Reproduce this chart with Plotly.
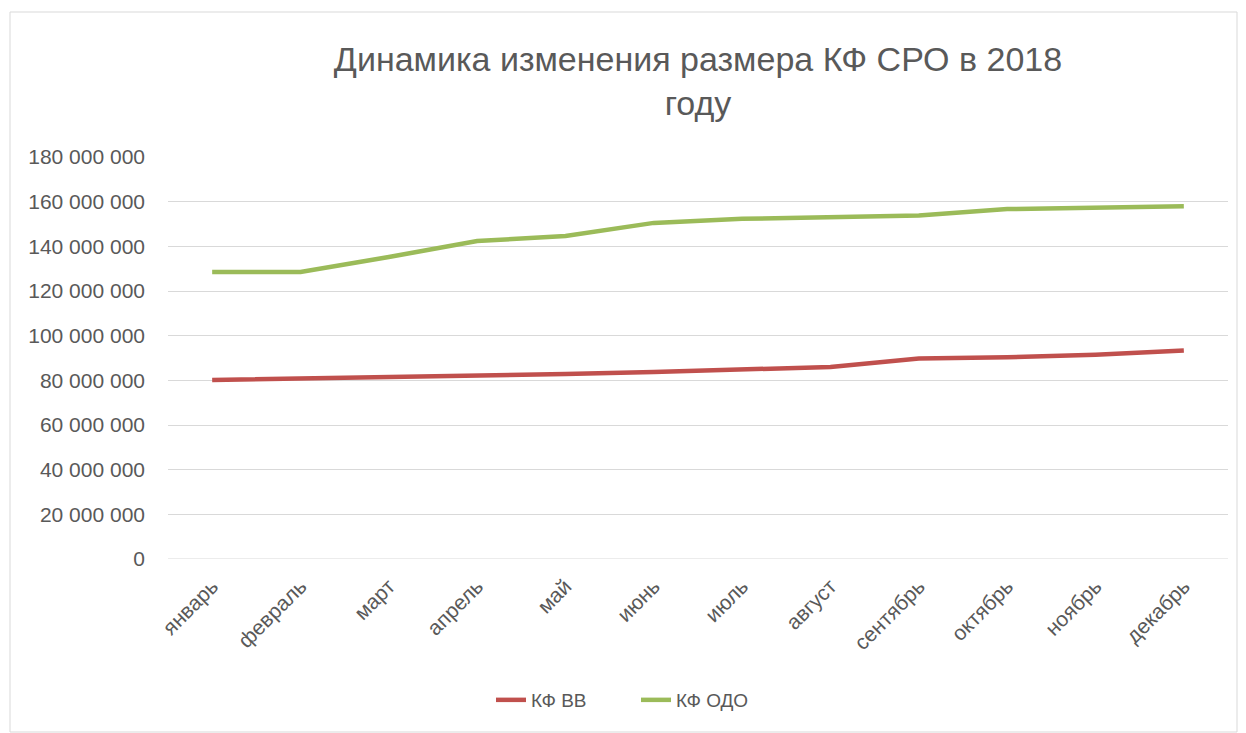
import plotly.graph_objects as go

months = ["январь", "февраль", "март", "апрель", "май", "июнь", "июль",
          "август", "сентябрь", "октябрь", "ноябрь", "декабрь"]
kf_vv = [80.2e6, 80.8e6, 81.5e6, 81.9e6, 82.8e6, 83.7e6, 84.6e6, 86.0e6,
         89.8e6, 90.3e6, 91.5e6, 93.4e6]
kf_odo = [128.5e6, 128.5e6, 135.2e6, 142.4e6, 144.6e6, 150.5e6, 152.3e6,
          153.2e6, 153.8e6, 156.7e6, 157.4e6, 157.9e6]

FONT = "'Liberation Sans', Arial, sans-serif"
GRAY = "#595959"

fig = go.Figure()
fig.add_trace(go.Scatter(x=months, y=kf_vv, mode="lines", name="КФ ВВ",
                         line=dict(color="#C0504D", width=4.5)))
fig.add_trace(go.Scatter(x=months, y=kf_odo, mode="lines", name="КФ ОДО",
                         line=dict(color="#9BBB59", width=4.5)))

L, R, T, B = 168, 18, 157, 174
W, H = 1246, 733
pw, ph = W - L - R, H - T - B

fig.add_shape(type="rect", xref="paper", yref="paper",
              x0=(10 - L) / pw, x1=(1237 - L) / pw,
              y0=(H - B - 732) / ph, y1=(H - B - 12) / ph,
              line=dict(color="#d9d9d9", width=1), layer="below")

fig.update_layout(
    width=W, height=H,
    margin=dict(l=L, r=R, t=T, b=B),
    paper_bgcolor="white", plot_bgcolor="white",
    font=dict(family=FONT, color=GRAY, size=20),
    separators=", ",
    title=dict(text="Динамика изменения размера КФ СРО в 2018<br>году",
               x=698 / W, xanchor="center", y=1 - 71 / H, yanchor="middle",
               font=dict(size=34, color=GRAY, family=FONT)),
    xaxis=dict(tickangle=-45, showgrid=False, showline=False, ticks="",
               range=[-0.5, 11.5], ticklabelstandoff=10,
               tickfont=dict(size=21, color=GRAY)),
    yaxis=dict(range=[0, 180e6], dtick=20e6, tickformat=",d",
               gridcolor="#d9d9d9", gridwidth=1, zeroline=False,
               showline=False, ticks="", ticklabelstandoff=22,
               tickfont=dict(size=21, color=GRAY)),
    legend=dict(orientation="h", x=(636 - L) / pw, xanchor="center",
                y=(H - B - 700) / ph, yanchor="middle",
                entrywidth=100, entrywidthmode="pixels",
                font=dict(size=19, color=GRAY)),
    showlegend=True,
)
fig.add_shape(type="line", xref="paper", yref="y", x0=0, x1=1, y0=0, y1=0,
              line=dict(color="#d9d9d9", width=1))

fig.write_html("out.html", config={"displayModeBar": False},
               post_script="document.body.style.margin='0';")
